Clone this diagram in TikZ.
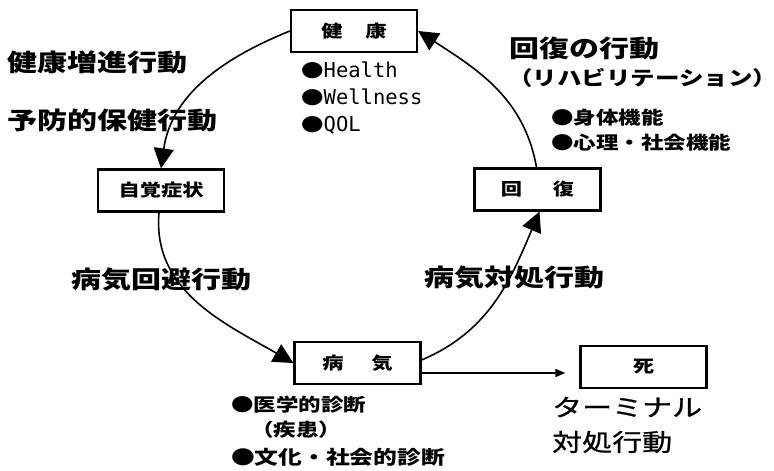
\documentclass[tikz,border=0pt]{standalone}
\usepackage{fontspec}
\setmainfont{Noto Sans CJK JP}
\newfontfamily\jp[FakeStretch=1.25]{Noto Sans CJK JP}
\newfontfamily\jpm[FakeStretch=1.25,FakeBold=1]{Noto Sans CJK JP}
\newfontfamily\mono{DejaVu Sans Mono}
\usetikzlibrary{arrows.meta}
\begin{document}
\begin{tikzpicture}[x=1pt,y=1pt,
  box/.style={draw, line width=2.2pt, minimum width=126pt, minimum height=42pt, inner sep=0pt, font=\jp\bfseries\fontsize{17}{20}\selectfont},
  big/.style={inner sep=0pt, anchor=west, font=\jp\bfseries\fontsize{24}{28}\selectfont},
  bigreg/.style={inner sep=0pt, anchor=west, font=\jpm\fontsize{24}{28}\selectfont},
  paren/.style={inner sep=0pt, anchor=west, font=\jp\bfseries\fontsize{19.6}{24}\selectfont},
  small/.style={inner sep=0pt, anchor=west, font=\jp\bfseries\fontsize{18}{20}\selectfont},
  monotext/.style={inner sep=0pt, anchor=west, font=\fontsize{18}{20}\selectfont},
  arc/.style={line width=1.6pt, -{Triangle[length=20pt,width=20pt]}}]
\useasboundingbox (0,0) rectangle (774,471);

% boxes
\node[box] (health) at (354,440) {健\hspace{23pt}康};
\node[box] (aware) at (161,280.5) {自覚症状};
\node[box] (recover) at (537.5,281.5) {回\hspace{31pt}復};
\node[box] (sick) at (357.5,108) {病\hspace{28pt}気};
\node[box] (death) at (643.5,104) {死};

% health sub-items
\node[monotext] (h1) at (301,401) {{\jp ●}{\mono\fontsize{20.5}{22}\selectfont Health}};
\node[monotext] (h2) at (301,374) {{\jp ●}{\mono\fontsize{20.5}{22}\selectfont Wellness}};
\node[monotext] (h3) at (301,346) {{\jp ●}{\mono\fontsize{20.5}{22}\selectfont QOL}};

% labels
\node[big] (l1) at (7,409) {健康増進行動};
\node[big] (l2) at (7,351) {予防的保健行動};
\node[big] (l3) at (509,423) {回復の行動};
\node[paren] (l4) at (508,393) {（リハビリテーション）};
\node[small] (b1) at (551,353) {●身体機能};
\node[small] (b2) at (551,328) {●心理・社会機能};
\node[big] (l5) at (71,191) {病気回避行動};
\node[big] (l6) at (424,193) {病気対処行動};
\node[small] (d1) at (231,66) {●医学的診断};
\node[small] (d2) at (251,41) {（疾患）};
\node[small, font=\jp\bfseries\fontsize{19}{21}\selectfont] (d3) at (231,14) {●文化・社会的診断};
\node[bigreg] (t1) at (552,64) {ターミナル};
\node[bigreg] (t2) at (552,29) {対処行動};

% cycle arrows
\draw[arc] (health.west) to[out=202,in=82] (aware.north);
\draw[arc] ([xshift=-2pt]aware.south) to[out=-95,in=150] (sick.west);
\draw[arc] ([yshift=3pt]sick.east) to[out=23,in=-113] ([xshift=2pt]recover.south);
\draw[arc] ([xshift=-1pt]recover.north) to[out=100,in=-33] (health.east);
\draw[line width=1.6pt, -{Triangle[length=10pt,width=8pt]}] ([yshift=-10pt]sick.east) -- ([xshift=-14pt,yshift=-6pt]death.west);
\end{tikzpicture}
\end{document}
